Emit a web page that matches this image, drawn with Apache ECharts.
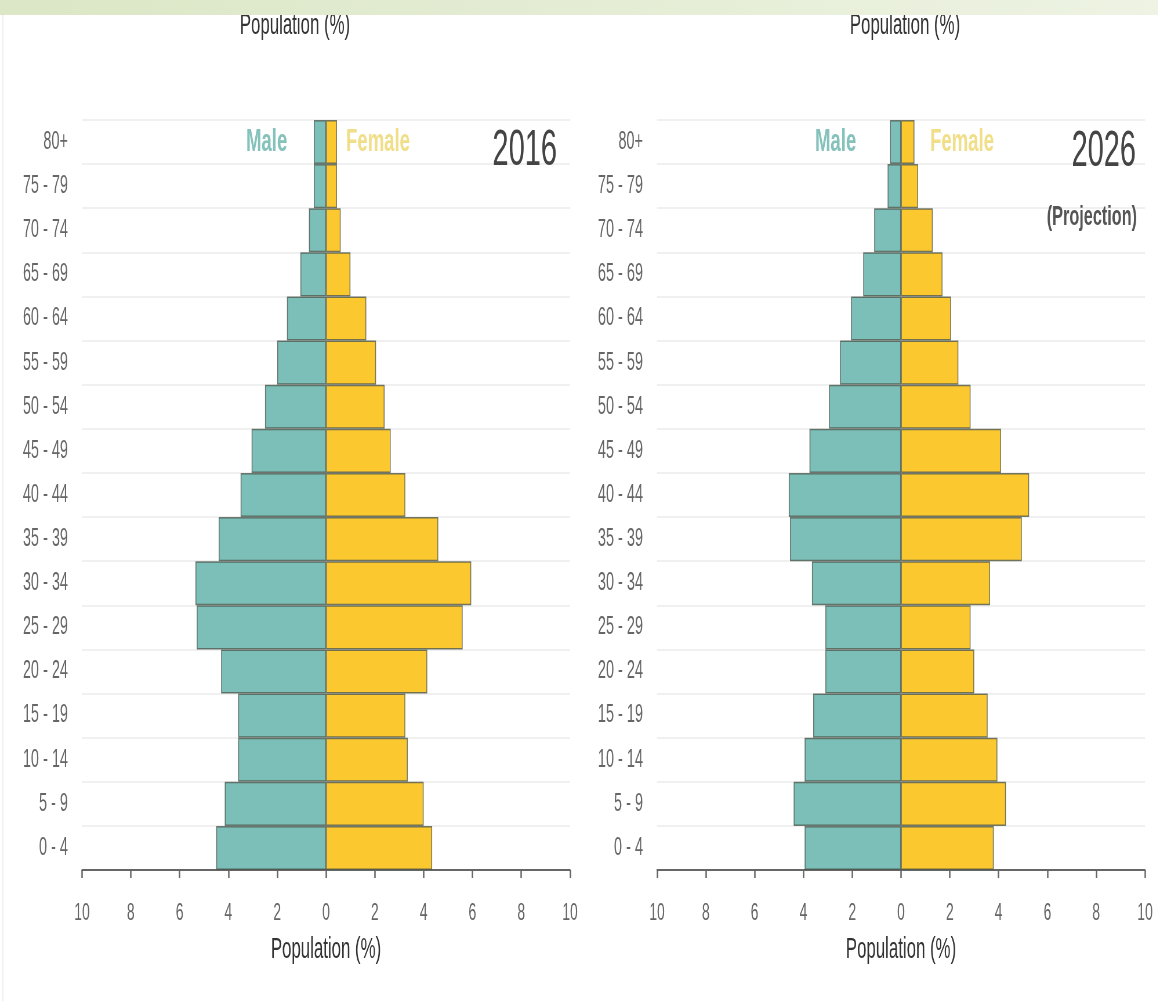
<!DOCTYPE html>
<html>
<head>
<meta charset="utf-8">
<script src="https://cdn.jsdelivr.net/npm/echarts@6/dist/echarts.min.js"></script>
<style>
html,body{margin:0;padding:0;background:#fff;overflow:hidden;width:1158px;height:1001px;}
#chart{height:1001px;transform-origin:0 0;}
</style>
</head>
<body>
<div id="chart"></div>
<script>
const categories = ['0 - 4','5 - 9','10 - 14','15 - 19','20 - 24','25 - 29','30 - 34','35 - 39','40 - 44','45 - 49','50 - 54','55 - 59','60 - 64','65 - 69','70 - 74','75 - 79','80+'];
const male2016   = [4.5, 4.15, 3.6, 3.6, 4.3, 5.3, 5.35, 4.4, 3.5, 3.05, 2.5, 2.0, 1.6, 1.05, 0.7, 0.5, 0.5];
const female2016 = [4.35, 4.0, 3.35, 3.25, 4.15, 5.6, 5.95, 4.6, 3.25, 2.65, 2.4, 2.05, 1.65, 1.0, 0.6, 0.45, 0.45];
const male2026   = [3.95, 4.4, 3.95, 3.6, 3.1, 3.1, 3.65, 4.55, 4.6, 3.75, 2.95, 2.5, 2.05, 1.55, 1.1, 0.55, 0.45];
const female2026 = [3.8, 4.3, 3.95, 3.55, 3.0, 2.85, 3.65, 4.95, 5.25, 4.1, 2.85, 2.35, 2.05, 1.7, 1.3, 0.7, 0.55];
const xTicks = [-10, 10, 2];
const years = ['2016', '2026'];

// Text in the reference is horizontally condensed; draw on a wider canvas and squeeze it.
const S = 0.58;
const W = Math.round(1158 / S);
const X = v => v / S;
const el = document.getElementById('chart');
el.style.width = W + 'px';
el.style.transform = 'scaleX(' + S + ')';

const FONT = "'Liberation Sans', Arial, sans-serif";
const MALE = '#7bbfb8';
const FEMALE = '#fcc830';
const BORDER = 'rgba(70,80,70,0.75)';

function xAxisCfg(gi) {
  return {
    type: 'value', gridIndex: gi, min: xTicks[0], max: xTicks[1], interval: xTicks[2],
    name: 'Population (%)', nameLocation: 'middle', nameGap: 65,
    nameTextStyle: { fontFamily: FONT, fontSize: 29, color: '#333' },
    axisLine: { show: true, onZero: false, lineStyle: { color: '#666', width: 2 } },
    axisTick: { show: true, length: 8, lineStyle: { color: '#666', width: 2.5 } },
    axisLabel: { formatter: v => String(Math.abs(v)), fontFamily: FONT, fontSize: 24, color: '#666', margin: 31 },
    splitLine: { show: false }
  };
}
function yAxisCfg(gi) {
  return {
    type: 'category', gridIndex: gi, data: categories, boundaryGap: true,
    axisLine: { show: false }, axisTick: { show: false },
    axisLabel: { fontFamily: FONT, fontSize: 25, color: '#666', margin: X(14) },
    splitLine: { show: true, lineStyle: { color: '#ebebeb', width: 1.5 } }
  };
}
function barSeries(name, data, gi, color, stack) {
  return {
    name: name, type: 'bar', xAxisIndex: gi, yAxisIndex: gi, stack: stack,
    data: data, barCategoryGap: '0%', barGap: '0%',
    itemStyle: { color: color, borderColor: BORDER, borderWidth: 1.5 },
    silent: true
  };
}
function txt(x, y, text, font, fill, align) {
  return { type: 'text', x: X(x), y: y, z: 50,
    style: { text: text, font: font, fill: fill, align: align || 'left', verticalAlign: 'middle' } };
}

const chart = echarts.init(el, null, { renderer: 'canvas' });
chart.setOption({
  animation: false,
  backgroundColor: '#fff',
  grid: [
    { left: X(82), top: 120, width: X(488), height: 750 },
    { left: X(657), top: 120, width: X(488), height: 750 }
  ],
  xAxis: [xAxisCfg(0), xAxisCfg(1)],
  yAxis: [yAxisCfg(0), yAxisCfg(1)],
  series: [
    barSeries('Male', male2016.map(v => -v), 0, MALE, 's0'),
    barSeries('Female', female2016, 0, FEMALE, 's0'),
    barSeries('Male', male2026.map(v => -v), 1, MALE, 's1'),
    barSeries('Female', female2026, 1, FEMALE, 's1')
  ],
  graphic: [
    txt(557, 151, years[0], "50px " + FONT, '#444', 'right'),
    txt(1136, 152, years[1], "50px " + FONT, '#444', 'right'),
    txt(1137, 217, '(Projection)', "bold 28px " + FONT, '#555', 'right'),
    txt(246, 142, 'Male', "bold 32px " + FONT, '#85c2bc'),
    txt(346, 142, 'Female', "bold 32px " + FONT, '#f0df88'),
    txt(815, 142, 'Male', "bold 32px " + FONT, '#85c2bc'),
    txt(930, 142, 'Female', "bold 32px " + FONT, '#f0df88'),
    txt(295, 26, 'Population (%)', "29px " + FONT, '#333', 'center'),
    txt(905, 26, 'Population (%)', "29px " + FONT, '#333', 'center'),
    { type: 'rect', x: 0, y: 0, z: 100, shape: { width: W, height: 15 },
      style: { fill: new echarts.graphic.LinearGradient(0, 0, 1, 0, [
        { offset: 0, color: '#dbe7c6' }, { offset: 1, color: '#eef3e3' } ]) } },
    { type: 'rect', x: X(2), y: 15, shape: { width: X(1.5), height: 986 }, style: { fill: '#f0f0f0' } }
  ]
});
</script>
</body>
</html>
